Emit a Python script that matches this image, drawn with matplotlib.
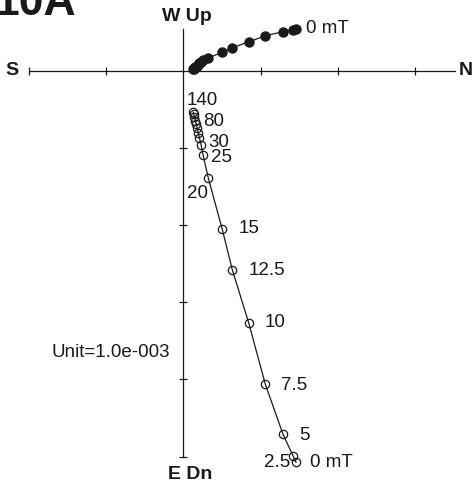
'''
Zijderveld plot of AF demagnetisation (specimen 10A).
Filled circles: horizontal projection (N vs W), open circles: vertical (N vs Dn).
'''
import matplotlib
matplotlib.use("Agg")
import matplotlib.pyplot as plt

plt.rcParams['font.family'] = ['Liberation Sans', 'DejaVu Sans']

# AF steps (mT)
steps = [0, 2.5, 5, 7.5, 10, 12.5, 15, 20, 25, 30, 40, 50, 60, 70, 80, 100, 120, 140]

# components, in units of 1.0e-003
north = [1.457, 1.418, 1.289, 1.060, 0.845, 0.632, 0.501, 0.321, 0.253, 0.227,
         0.207, 0.192, 0.177, 0.165, 0.153, 0.142, 0.133, 0.127]
west = [0.540, 0.527, 0.505, 0.453, 0.372, 0.298, 0.238, 0.165, 0.139, 0.113,
        0.096, 0.080, 0.065, 0.054, 0.044, 0.035, 0.028, 0.022]
down = [5.073, 4.987, 4.710, 4.062, 3.268, 2.578, 2.051, 1.390, 1.088, 0.959,
        0.872, 0.807, 0.742, 0.690, 0.645, 0.600, 0.567, 0.539]

# which steps get a label on the vertical projection
labelled = [0, 2.5, 5, 7.5, 10, 12.5, 15, 20, 25, 30, 80, 140]

h_ticks = [-2, -1, 1, 2, 3]
v_ticks = [-1, -2, -3, -4, -5]

INK = '#1a1a1a'
FS = 13.5

fig = plt.figure(figsize=(4.75, 4.85), dpi=100)
ax = fig.add_axes([0, 0, 1, 1])
ax.set_xlim(-2.377, 3.776)
ax.set_ylim(-5.354, 0.929)
ax.axis('off')

# axes of the diagram
ax.plot([-2.0, 3.52], [0, 0], color=INK, lw=0.9)
ax.plot([0, 0], [0.54, -5.0], color=INK, lw=0.9)
ax.plot(h_ticks, [0] * len(h_ticks), ls='none', marker='|', ms=6, mew=0.9, color=INK)
ax.plot([0] * len(v_ticks), v_ticks, ls='none', marker='_', ms=6, mew=0.9, color=INK)

ax.text(-2.14, 0.02, 'S', ha='right', va='center', fontsize=14, fontweight='bold', color=INK)
ax.text(3.56, 0.02, 'N', ha='left', va='center', fontsize=14, fontweight='bold', color=INK)
ax.text(0.05, 0.6, 'W Up', ha='center', va='bottom', fontsize=14, fontweight='bold', color=INK)
ax.text(0.09, -5.11, 'E Dn', ha='center', va='top', fontsize=14, fontweight='bold', color=INK)

# horizontal projection
ax.plot(north, west, color=INK, lw=0.9, marker='o', ms=6.5, mfc=INK, mec=INK)
ax.annotate('0 mT', (north[0], west[0]), xytext=(10, 2), textcoords='offset pixels',
            ha='left', va='center', fontsize=FS, color=INK)

# vertical projection
ax.plot(north, [-d for d in down], color=INK, lw=0.9, marker='o', ms=6,
        mfc='none', mec=INK, mew=0.9)

offsets = {0: (14, 1, 'left'), 2.5: (-3, -6, 'right'), 5: (16, 0, 'left'),
           7.5: (16, 0, 'left'), 10: (16, 1, 'left'), 12.5: (16, 0, 'left'),
           15: (16, 2, 'left'), 20: (0, -14, 'right'), 25: (8, -2, 'left'),
           30: (7, 3, 'left'), 80: (8, 0, 'left'), 140: (-7, 13, 'left')}
for s in labelled:
    i = steps.index(s)
    dx, dy, ha = offsets[s]
    txt = '0 mT' if s == 0 else f'{s:g}'
    ax.annotate(txt, (north[i], -down[i]), xytext=(dx, dy), textcoords='offset pixels',
                ha=ha, va='center', fontsize=FS, color=INK)

ax.text(-1.71, -3.64, 'Unit=1.0e-003', ha='left', va='center', fontsize=FS, color=INK)

# specimen label, partly off the top-left edge as in the source figure
fig.text(-0.013, 0.969, '10A', ha='left', va='baseline', fontsize=32,
         fontweight='bold', color=INK)

fig.savefig('out.png', dpi=100)
